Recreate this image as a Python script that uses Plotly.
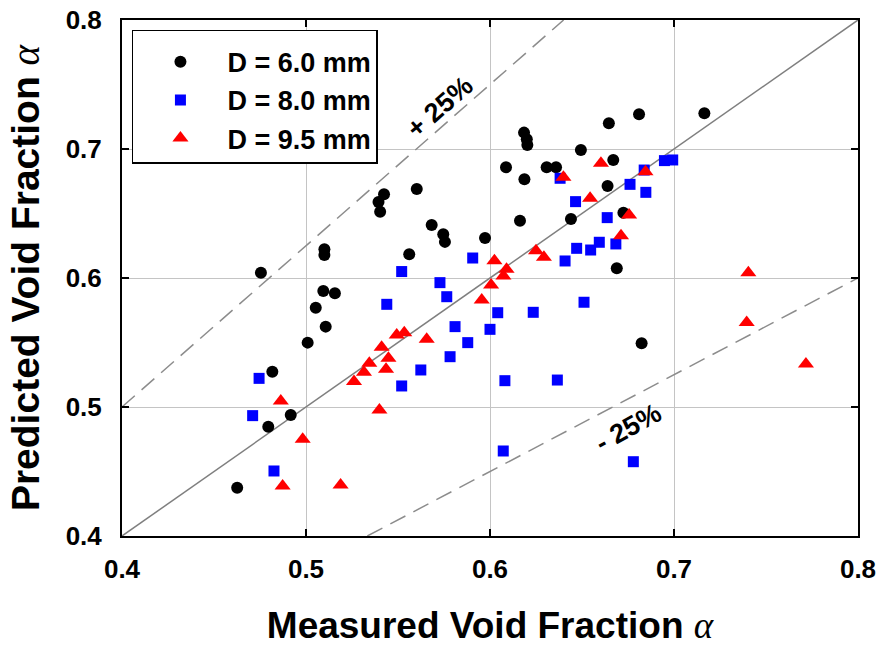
import plotly.graph_objects as go

# Measured vs predicted void fraction for three tube diameters
d60_measured = [0.4626, 0.4755, 0.4795, 0.4817, 0.4917, 0.5009, 0.5053, 0.5094, 0.5100, 0.5100,
                0.5107, 0.5157, 0.5394, 0.5403, 0.5424, 0.5561, 0.5602, 0.5683, 0.5746, 0.5755,
                0.5973, 0.6087, 0.6163, 0.6185, 0.6200, 0.6203, 0.6187, 0.6308, 0.6359, 0.6440,
                0.6494, 0.6639, 0.6646, 0.6670, 0.6689, 0.6725, 0.6810, 0.6824, 0.7165]
d60_predicted = [0.4374, 0.6041, 0.4847, 0.5274, 0.4938, 0.5499, 0.5770, 0.5899, 0.6222, 0.6178,
                 0.5623, 0.5881, 0.6590, 0.6514, 0.6650, 0.6184, 0.6690, 0.6410, 0.6339, 0.6280,
                 0.6310, 0.6858, 0.6444, 0.7127, 0.7075, 0.7031, 0.6765, 0.6858, 0.6858, 0.6457,
                 0.6992, 0.6713, 0.7200, 0.6915, 0.6075, 0.6506, 0.7270, 0.5494, 0.7277]

d80_measured = [0.4710, 0.4745, 0.4826, 0.5439, 0.5520, 0.5520, 0.5624, 0.5728, 0.5765, 0.5783,
                0.5810, 0.5879, 0.5906, 0.6000, 0.6042, 0.6072, 0.6081, 0.6235, 0.6366, 0.6381,
                0.6408, 0.6465, 0.6471, 0.6511, 0.6547, 0.6594, 0.6637, 0.6684, 0.6761, 0.6779,
                0.6838, 0.6847, 0.6948, 0.6993]
d80_predicted = [0.4933, 0.5222, 0.4504, 0.5796, 0.6050, 0.5163, 0.5287, 0.5964, 0.5855, 0.5390,
                 0.5623, 0.5499, 0.6155, 0.5602, 0.5731, 0.4659, 0.5204, 0.5734, 0.5209, 0.6773,
                 0.6132, 0.6592, 0.6230, 0.5812, 0.6217, 0.6277, 0.6468, 0.6264, 0.6726, 0.4576,
                 0.6837, 0.6664, 0.6910, 0.6915]

d95_measured = [0.4863, 0.4873, 0.4982, 0.5188, 0.5261, 0.5315, 0.5344, 0.5399, 0.5411, 0.5435,
                0.5448, 0.5493, 0.5534, 0.5656, 0.5955, 0.6006, 0.6024, 0.6073, 0.6090, 0.6250,
                0.6293, 0.6399, 0.6544, 0.6603, 0.6712, 0.6756, 0.6845, 0.7395, 0.7404, 0.7717]
d95_predicted = [0.5047, 0.4388, 0.4750, 0.4395, 0.5197, 0.5269, 0.5339, 0.4977, 0.5463, 0.5292,
                 0.5378, 0.5558, 0.5576, 0.5525, 0.5830, 0.5946, 0.6134, 0.6016, 0.6067, 0.6212,
                 0.6160, 0.6781, 0.6618, 0.6889, 0.6328, 0.6488, 0.6824, 0.5656, 0.6041, 0.5333]

axis_min, axis_max = 0.4, 0.8
tick_values = [0.4, 0.5, 0.6, 0.7, 0.8]
tick_labels = ["0.4", "0.5", "0.6", "0.7", "0.8"]
band = 0.25  # +/- 25 % error band

font_family = "Arial, 'Liberation Sans', sans-serif"
alpha_html = "<span style=\"font-family:'Liberation Serif', serif; font-weight:normal\"><i>α</i></span>"

fig = go.Figure()

# Reference lines: perfect agreement and +/-25 % bounds
ref_x = [axis_min, axis_max]
fig.add_trace(go.Scatter(x=ref_x, y=ref_x, mode="lines",
                         line=dict(color="#7f7f7f", width=1.5),
                         showlegend=False, hoverinfo="skip"))
upper_x = [axis_min, axis_max / (1 + band)]
fig.add_trace(go.Scatter(x=upper_x, y=[v * (1 + band) for v in upper_x], mode="lines",
                         line=dict(color="#8c8c8c", width=1.5, dash="17px,9px"),
                         showlegend=False, hoverinfo="skip"))
lower_x = [axis_min / (1 - band), axis_max]
fig.add_trace(go.Scatter(x=lower_x, y=[v * (1 - band) for v in lower_x], mode="lines",
                         line=dict(color="#8c8c8c", width=1.5, dash="17px,9px"),
                         showlegend=False, hoverinfo="skip"))

# Data series
fig.add_trace(go.Scatter(x=d60_measured, y=d60_predicted, mode="markers", name="D = 6.0 mm",
                         marker=dict(symbol="circle", size=12, color="#000000")))
fig.add_trace(go.Scatter(x=d80_measured, y=d80_predicted, mode="markers", name="D = 8.0 mm",
                         marker=dict(symbol="square", size=11, color="#0000ff")))
fig.add_trace(go.Scatter(x=d95_measured, y=d95_predicted, mode="markers", name="D = 9.5 mm",
                         marker=dict(symbol="triangle-up", size=14, color="#ff0000")))

# Band labels
fig.add_annotation(x=0.5728, y=0.7326, xref="x", yref="y", text="<b>+ 25%</b>", showarrow=False,
                   textangle=-41, font=dict(family=font_family, size=27, color="#000000"))
fig.add_annotation(x=0.6750, y=0.4837, xref="x", yref="y", text="<b>- 25%</b>", showarrow=False,
                   textangle=-29, font=dict(family=font_family, size=27, color="#000000"))

axis_common = dict(
    range=[axis_min, axis_max],
    tickvals=tick_values,
    ticktext=tick_labels,
    showgrid=True,
    gridcolor="#c4c4c4",
    gridwidth=1.2,
    zeroline=False,
    showline=True,
    linecolor="#000000",
    linewidth=2,
    mirror="ticks",
    ticks="inside",
    ticklen=7,
    tickwidth=1.5,
    tickcolor="#000000",
    automargin=False,
    tickfont=dict(family=font_family, size=26, color="#000000", weight="bold"),
)

fig.update_xaxes(**axis_common,
                 title=dict(text="<b>Measured Void Fraction</b> " + alpha_html,
                            font=dict(family=font_family, size=37, color="#000000"),
                            standoff=30),
                 ticklabelstandoff=9)
fig.update_yaxes(**axis_common,
                 title=dict(text="<b>Predicted Void Fraction</b> " + alpha_html,
                            font=dict(family=font_family, size=39, color="#000000"),
                            standoff=14),
                 ticklabelstandoff=13)

fig.update_layout(
    width=880, height=646,
    margin=dict(l=122, r=22, t=20, b=110),
    paper_bgcolor="#ffffff",
    plot_bgcolor="#ffffff",
    font=dict(family=font_family, color="#000000"),
    legend=dict(
        x=0.0135, y=0.981, xanchor="left", yanchor="top",
        bgcolor="#ffffff", bordercolor="#000000", borderwidth=1.5,
        font=dict(family=font_family, size=27, color="#000000", weight="bold"),
        title=dict(text="&nbsp;", font=dict(size=5)),
        itemwidth=84,
        tracegroupgap=0,
    ),
)

fig.write_html("out.html")
